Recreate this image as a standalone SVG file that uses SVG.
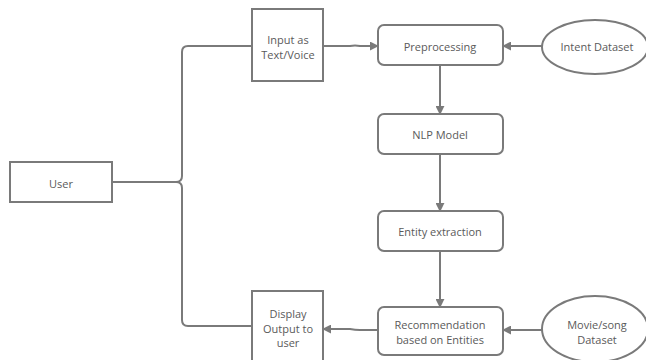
<svg xmlns="http://www.w3.org/2000/svg" width="646" height="360" viewBox="0 0 646 360">
<defs>
<style>
.n{fill:#fff;stroke:#7a7a7a;stroke-width:2}
.c{fill:none;stroke:#7a7a7a;stroke-width:2}
text{font-family:"Open Sans","Noto Sans",sans-serif;font-size:11px;fill:#5a5a5a;text-anchor:middle;dominant-baseline:central}
</style>
<marker id="ah" viewBox="0 0 10 10" refX="9" refY="5" markerWidth="9" markerHeight="9" markerUnits="userSpaceOnUse" orient="auto">
<path d="M0,0 L10,5 L0,10 Z" fill="#7a7a7a"/>
</marker>
</defs>
<rect width="646" height="360" fill="#fff"/>
<g id="connectors">
<path class="c" d="M112,182 H176 Q182,182 182,176 V52 Q182,46 188,46 H252"/>
<path class="c" d="M176,182 Q182,182 182,188 V320 Q182,326 188,326 H252"/>
<path class="c" marker-end="url(#ah)" d="M323,46 H350 Q355,45 360,46 H378"/>
<path class="c" marker-end="url(#ah)" d="M542,46 H503"/>
<path class="c" marker-end="url(#ah)" d="M440,65 V114"/>
<path class="c" marker-end="url(#ah)" d="M440,154 V211"/>
<path class="c" marker-end="url(#ah)" d="M440,251 V307"/>
<path class="c" marker-end="url(#ah)" d="M378,330 H360 Q355,330 350,329 H323"/>
<path class="c" marker-end="url(#ah)" d="M542,330 H503"/>
</g>
<g id="user"><rect class="n" x="10" y="162" width="102" height="40"/><text x="61" y="183">User</text></g>
<g id="input"><rect class="n" x="252" y="9" width="71" height="72"/><text x="288" y="39">Input as</text><text x="288" y="54">Text/Voice</text></g>
<g id="display"><rect class="n" x="252" y="291" width="71" height="75"/><text x="288" y="313">Display</text><text x="288" y="328">Output to</text><text x="288" y="342">user</text></g>
<g id="preprocessing"><rect class="n" x="378" y="25" width="125" height="40" rx="6"/><text x="440" y="46">Preprocessing</text></g>
<g id="nlp"><rect class="n" x="378" y="114" width="125" height="40" rx="6"/><text x="440" y="134">NLP Model</text></g>
<g id="entity"><rect class="n" x="378" y="211" width="125" height="40" rx="6"/><text x="440" y="231">Entity extraction</text></g>
<g id="recommendation"><rect class="n" x="378" y="307" width="125" height="48" rx="6"/><text x="440" y="324">Recommendation</text><text x="440" y="339">based on Entities</text></g>
<g id="intent"><ellipse class="n" cx="595" cy="47" rx="53" ry="27"/><text x="597" y="46">Intent Dataset</text></g>
<g id="movie"><ellipse class="n" cx="595" cy="329" rx="53" ry="33"/><text x="597" y="324">Movie/song</text><text x="597" y="339">Dataset</text></g>
</svg>
